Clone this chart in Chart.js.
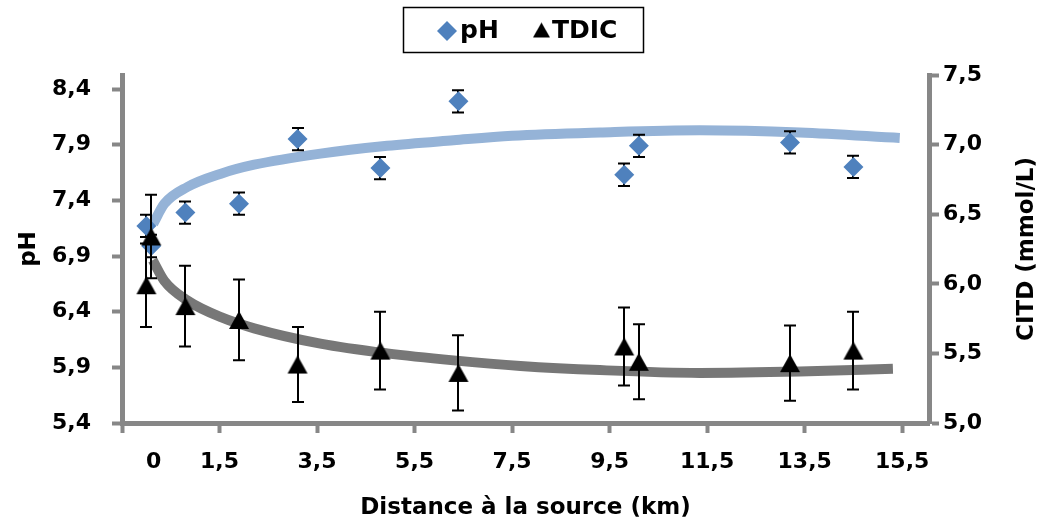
<!DOCTYPE html>
<html>
<head>
<meta charset="utf-8">
<script src="https://cdn.jsdelivr.net/npm/chart.js@4.4.0/dist/chart.umd.min.js"></script>
<style>
  html, body { margin: 0; padding: 0; background: #ffffff; }
</style>
</head>
<body>
<canvas id="chart" width="1047" height="526"></canvas>
<script>
// distances (km) and measured values
const distances = [0, 0.1, 0.8, 1.9, 3.1, 4.8, 6.4, 9.8, 10.1, 13.2, 14.5];
const phValues = [7.17, 6.99, 7.29, 7.37, 7.95, 7.69, 8.29, 7.63, 7.89, 7.92, 7.70];
const phErrors = [0.1, 0.1, 0.1, 0.1, 0.1, 0.1, 0.1, 0.1, 0.1, 0.1, 0.1];
const tdicValues = [5.99, 6.34, 5.84, 5.74, 5.42, 5.52, 5.36, 5.55, 5.44, 5.43, 5.52];
const tdicErrors = [0.3, 0.3, 0.29, 0.29, 0.27, 0.28, 0.27, 0.28, 0.27, 0.27, 0.28];

// trend curves
const phTrendX = [0.14, 0.37, 0.84, 1.53, 2.21, 3.57, 4.94, 6.30, 7.5, 9.30, 11.35, 13.40, 15.45];
const phTrendY = [7.19, 7.37, 7.52, 7.64, 7.72, 7.82, 7.89, 7.94, 7.98, 8.01, 8.03, 8.01, 7.96];
const tdicTrendX = [0.13, 0.37, 0.84, 1.53, 2.21, 3.57, 4.94, 6.30, 7.67, 9.30, 11.35, 13.40, 15.31];
const tdicTrendY = [6.17, 6.02, 5.88, 5.76, 5.68, 5.57, 5.50, 5.45, 5.41, 5.38, 5.36, 5.37, 5.39];

// axis ticks
const xTicks = [-0.5, 0.15, 1.5, 3.5, 5.5, 7.5, 9.5, 11.5, 13.5, 15.5];
const xTickLabels = ['', '0', '1,5', '3,5', '5,5', '7,5', '9,5', '11,5', '13,5', '15,5'];
const phTicks = [5.4, 5.9, 6.4, 6.9, 7.4, 7.9, 8.4];
const phTickLabels = ['5,4', '5,9', '6,4', '6,9', '7,4', '7,9', '8,4'];
const tdicTicks = [5.0, 5.5, 6.0, 6.5, 7.0, 7.5];
const tdicTickLabels = ['5,0', '5,5', '6,0', '6,5', '7,0', '7,5'];

const axisGrey = '#878787';
const phBlue = '#4F81BD';
const FONT = "'DejaVu Sans', sans-serif";

function pairs(xs, ys) { return xs.map((x, i) => ({ x: x, y: ys[i] })); }

// triangle marker, centred on its bounding box like the spreadsheet one
function triangleMarker(w, h) {
    const c = document.createElement('canvas');
    c.width = w + 2; c.height = h + 2;
    const g = c.getContext('2d');
    g.fillStyle = '#000';
    g.beginPath();
    g.moveTo(c.width / 2, 1);
    g.lineTo(c.width - 1, h + 1);
    g.lineTo(1, h + 1);
    g.closePath();
    g.fill();
    return c;
}
const triImg = triangleMarker(20, 18);
const triLegend = triangleMarker(17, 15);

const errorBars = {
    id: 'errorBars',
    beforeDatasetDraw(chart, args) {
        const ds = chart.data.datasets[args.index];
        if (!ds.errors) return;
        const ctx = chart.ctx;
        const xs = chart.scales.x, ys = chart.scales[ds.yAxisID];
        ctx.save();
        ctx.strokeStyle = '#000';
        ctx.lineWidth = 2;
        ds.data.forEach((p, i) => {
            const px = Math.round(xs.getPixelForValue(p.x));
            const top = ys.getPixelForValue(p.y + ds.errors[i]);
            const bot = ys.getPixelForValue(p.y - ds.errors[i]);
            ctx.beginPath();
            ctx.moveTo(px, top); ctx.lineTo(px, bot);
            ctx.moveTo(px - 6, top); ctx.lineTo(px + 6, top);
            ctx.moveTo(px - 6, bot); ctx.lineTo(px + 6, bot);
            ctx.stroke();
        });
        ctx.restore();
    }
};

const legendAndRightTitle = {
    id: 'legendAndRightTitle',
    afterDraw(chart) {
        const ctx = chart.ctx;
        const area = chart.chartArea;
        ctx.save();
        // right axis title, reading upwards
        ctx.fillStyle = '#000';
        ctx.font = 'bold 23px ' + FONT;
        ctx.textAlign = 'center';
        ctx.textBaseline = 'middle';
        ctx.translate(1027, (area.top + area.bottom) / 2);
        ctx.rotate(-Math.PI / 2);
        ctx.fillText('CITD (mmol/L)', 0, 0);
        ctx.restore();

        // legend box
        ctx.save();
        ctx.strokeStyle = '#000';
        ctx.lineWidth = 1.5;
        ctx.strokeRect(403.5, 7.5, 240, 45);
        ctx.fillStyle = phBlue;
        ctx.beginPath();
        ctx.moveTo(447, 21); ctx.lineTo(457, 31); ctx.lineTo(447, 41); ctx.lineTo(437, 31);
        ctx.closePath();
        ctx.fill();
        ctx.drawImage(triLegend, 541.5 - triLegend.width / 2, 30 - triLegend.height / 2);
        ctx.fillStyle = '#000';
        ctx.font = 'bold 25px ' + FONT;
        ctx.textAlign = 'left';
        ctx.textBaseline = 'middle';
        ctx.fillText('pH', 460, 31);
        ctx.fillText('TDIC', 552, 31);
        ctx.restore();
    }
};

function tickStyle(extra) {
    return Object.assign({
        color: '#000',
        font: { family: FONT, size: 22, weight: 'bold' }
    }, extra);
}

new Chart(document.getElementById('chart'), {
    type: 'scatter',
    data: {
        datasets: [
            {
                label: 'TDIC',
                data: pairs(distances, tdicValues),
                errors: tdicErrors,
                yAxisID: 'y1',
                pointStyle: triImg,
                pointRadius: 10,
                pointHoverRadius: 10,
                order: 0
            },
            {
                label: 'pH',
                data: pairs(distances, phValues),
                errors: phErrors,
                yAxisID: 'y',
                pointStyle: 'rectRot',
                pointRadius: 10,
                pointHoverRadius: 10,
                backgroundColor: phBlue,
                borderWidth: 0,
                order: 1
            },
            {
                label: 'TDIC trend',
                data: pairs(tdicTrendX, tdicTrendY),
                yAxisID: 'y1',
                showLine: true,
                pointRadius: 0,
                borderColor: '#777777',
                borderWidth: 10,
                borderCapStyle: 'butt',
                cubicInterpolationMode: 'monotone',
                order: 2
            },
            {
                label: 'pH trend',
                data: pairs(phTrendX, phTrendY),
                yAxisID: 'y',
                showLine: true,
                pointRadius: 0,
                borderColor: '#95B3D7',
                borderWidth: 10,
                borderCapStyle: 'butt',
                cubicInterpolationMode: 'monotone',
                order: 3
            }
        ]
    },
    options: {
        responsive: false,
        animation: false,
        events: [],
        layout: { padding: { top: 75, left: 0, right: 0, bottom: 0 } },
        plugins: {
            legend: { display: false },
            tooltip: { enabled: false }
        },
        scales: {
            x: {
                type: 'linear',
                position: 'bottom',
                min: -0.5,
                max: 16.05,
                afterBuildTicks: s => { s.ticks = xTicks.map(v => ({ value: v })); },
                afterFit: s => { s.height = 103; },
                ticks: tickStyle({ padding: 16, callback: (v, i) => xTickLabels[i] }),
                grid: {
                    drawOnChartArea: false,
                    drawTicks: true,
                    tickLength: 10,
                    tickWidth: 4,
                    tickColor: c => (c.tick && c.tick.value === 0.15) ? 'rgba(0,0,0,0)' : axisGrey
                },
                border: { color: axisGrey, width: 5 },
                title: {
                    display: true,
                    text: 'Distance à la source (km)',
                    color: '#000',
                    font: { family: FONT, size: 23, weight: 'bold' },
                    padding: { top: 0, bottom: 4 }
                }
            },
            y: {
                type: 'linear',
                position: 'left',
                min: 5.4,
                max: 8.526,
                afterBuildTicks: s => { s.ticks = phTicks.map(v => ({ value: v })); },
                afterFit: s => { s.width = 122; },
                ticks: tickStyle({ padding: 21, callback: (v, i) => phTickLabels[i] }),
                grid: { drawOnChartArea: false, drawTicks: true, tickLength: 10, tickWidth: 4, tickColor: axisGrey },
                border: { color: axisGrey, width: 5 },
                title: {
                    display: true,
                    text: 'pH',
                    color: '#000',
                    font: { family: FONT, size: 23, weight: 'bold' },
                    padding: { top: 15, bottom: 0 }
                }
            },
            y1: {
                type: 'linear',
                position: 'right',
                min: 5.0,
                max: 7.5,
                afterBuildTicks: s => { s.ticks = tdicTicks.map(v => ({ value: v })); },
                afterFit: s => { s.width = 118; },
                ticks: tickStyle({ padding: 4, callback: (v, i) => tdicTickLabels[i] }),
                grid: { drawOnChartArea: false, drawTicks: true, tickLength: 10, tickWidth: 4, tickColor: axisGrey },
                border: { color: axisGrey, width: 5 }
            }
        }
    },
    plugins: [errorBars, legendAndRightTitle]
});
</script>
</body>
</html>
